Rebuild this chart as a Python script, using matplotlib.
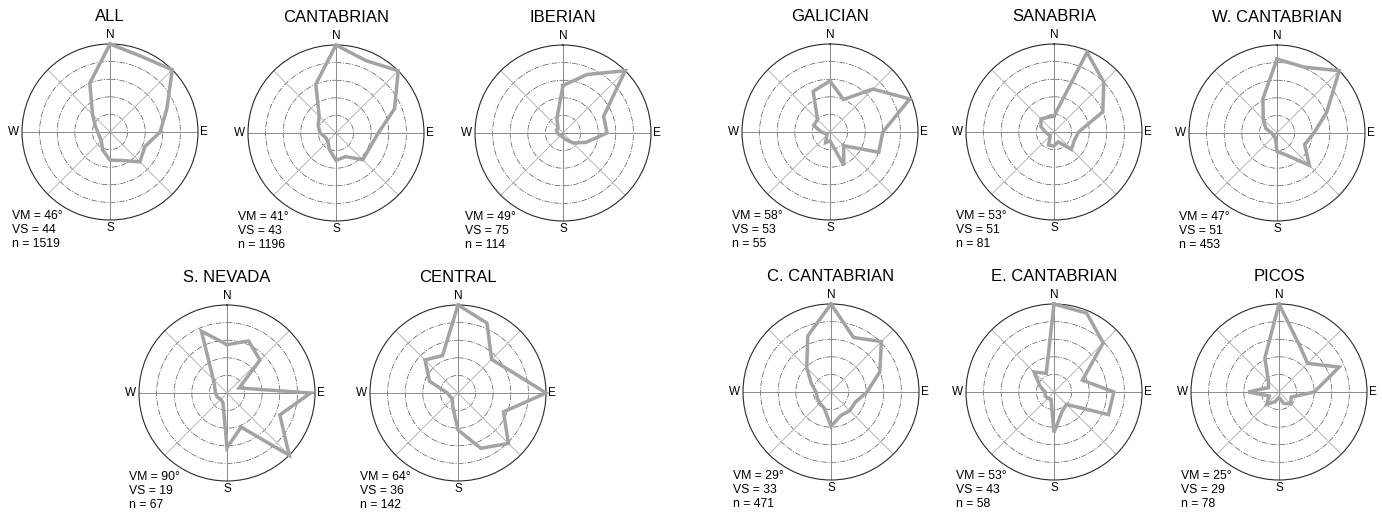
import numpy as np
import matplotlib.pyplot as plt

plt.rcParams['font.family'] = ['Liberation Sans', 'DejaVu Sans']

# relative frequency per 22.5 deg sector, clockwise from N (N, NNE, NE, ... NNW)
all_r = [1.0, 0.93, 1.0, 0.70, 0.57, 0.43, 0.48, 0.35, 0.32, 0.22, 0.14, 0.13, 0.14, 0.18, 0.28, 0.60]
cantabrian_r = [1.0, 0.89, 1.0, 0.72, 0.48, 0.42, 0.43, 0.29, 0.31, 0.20, 0.13, 0.13, 0.18, 0.22, 0.27, 0.60]
iberian_r = [0.54, 0.72, 1.0, 0.50, 0.50, 0.28, 0.16, 0.08, 0.05, 0.04, 0.03, 0.05, 0.06, 0.08, 0.08, 0.18]
s_nevada_r = [0.55, 0.64, 0.53, 0.15, 0.95, 0.65, 1.0, 0.42, 0.62, 0.12, 0.10, 0.12, 0.13, 0.15, 0.22, 0.76]
central_r = [1.0, 0.86, 0.54, 0.65, 1.0, 0.56, 0.81, 0.68, 0.42, 0.16, 0.09, 0.10, 0.12, 0.35, 0.53, 0.46]
galician_r = [0.58, 0.40, 0.69, 0.98, 0.60, 0.60, 0.22, 0.41, 0.10, 0.13, 0.05, 0.05, 0.10, 0.20, 0.20, 0.50]
sanabria_r = [0.18, 0.98, 0.80, 0.60, 0.28, 0.25, 0.28, 0.12, 0.16, 0.16, 0.06, 0.07, 0.10, 0.16, 0.21, 0.18]
w_cantabrian_r = [0.84, 0.81, 1.0, 0.61, 0.42, 0.34, 0.52, 0.27, 0.21, 0.05, 0.05, 0.05, 0.06, 0.14, 0.22, 0.42]
c_cantabrian_r = [1.0, 0.67, 0.81, 0.60, 0.41, 0.30, 0.30, 0.29, 0.39, 0.20, 0.18, 0.17, 0.17, 0.24, 0.39, 0.69]
e_cantabrian_r = [1.0, 0.97, 0.79, 0.35, 0.68, 0.67, 0.20, 0.24, 0.46, 0.09, 0.10, 0.11, 0.10, 0.17, 0.32, 0.23]
picos_r = [1.0, 0.59, 0.46, 0.74, 0.40, 0.15, 0.19, 0.14, 0.06, 0.12, 0.20, 0.12, 0.35, 0.13, 0.17, 0.42]

titles = ['ALL', 'CANTABRIAN', 'IBERIAN', 'S. NEVADA', 'CENTRAL',
          'GALICIAN', 'SANABRIA', 'W. CANTABRIAN',
          'C. CANTABRIAN', 'E. CANTABRIAN', 'PICOS']
vm = [46, 41, 49, 90, 64, 58, 53, 47, 29, 53, 25]
vs = [44, 43, 75, 19, 36, 53, 51, 51, 33, 43, 29]
n_obs = [1519, 1196, 114, 67, 142, 55, 81, 453, 471, 58, 78]
roses = [all_r, cantabrian_r, iberian_r, s_nevada_r, central_r,
         galician_r, sanabria_r, w_cantabrian_r,
         c_cantabrian_r, e_cantabrian_r, picos_r]

W, H = 1382, 513
R = 88  # circle radius in px
centres = [(110, 132), (336, 133), (563, 133), (227, 393), (458, 393),
           (830, 132), (1054, 132), (1277, 133),
           (831, 392), (1054, 392), (1279, 392)]

fig = plt.figure(figsize=(W / 100, H / 100), dpi=100)
theta = np.deg2rad(np.arange(16) * 22.5)
circ = np.linspace(0, 2 * np.pi, 361)


def rose(cx, cy, r, title, m, s, n):
    ax = fig.add_axes([(cx - R) / W, 1 - (cy + R) / H, 2 * R / W, 2 * R / H],
                      projection='polar')
    ax.set_theta_zero_location('N')
    ax.set_theta_direction(-1)
    ax.set_ylim(0, 1)
    ax.set_xticks([])
    ax.set_yticks([])
    ax.grid(False)
    ax.spines['polar'].set_color('#2a2a2a')
    ax.spines['polar'].set_linewidth(0.8)

    for rr in (0.2, 0.4, 0.6, 0.8):
        ax.plot(circ, np.full_like(circ, rr), color='#555555', lw=0.5,
                ls=(0, (8, 2, 1.5, 2)))
    for k in range(8):
        a = np.deg2rad(k * 45)
        col = '#8a8a8a' if k % 2 == 0 else '#b5b5b5'
        ax.plot([a, a], [0, 1], color=col, lw=0.7)

    ax.plot(np.append(theta, theta[0]), np.append(r, r[0]), color='#a3a3a3',
            lw=2.5, solid_joinstyle='miter', clip_on=False, zorder=5)

    t = ax.transAxes
    ax.text(0.5, 1.155, title, transform=t, ha='center', va='center', fontsize=12)
    ax.text(0.5, 1.05, 'N', transform=t, ha='center', va='center', fontsize=8.5)
    ax.text(0.5, -0.045, 'S', transform=t, ha='center', va='center', fontsize=8.5)
    ax.text(1.035, 0.5, 'E', transform=t, ha='center', va='center', fontsize=8.5)
    ax.text(-0.05, 0.5, 'W', transform=t, ha='center', va='center', fontsize=8.5)
    for i, line in enumerate([f'VM = {m}°', f'VS = {s}', f'n = {n}']):
        ax.text(-0.055, 0.02 - i * 0.078, line, transform=t, ha='left',
                va='center', fontsize=8.8)


for (cx, cy), r, title, m, s, n in zip(centres, roses, titles, vm, vs, n_obs):
    rose(cx, cy, r, title, m, s, n)

fig.savefig('out.png', dpi=100)
